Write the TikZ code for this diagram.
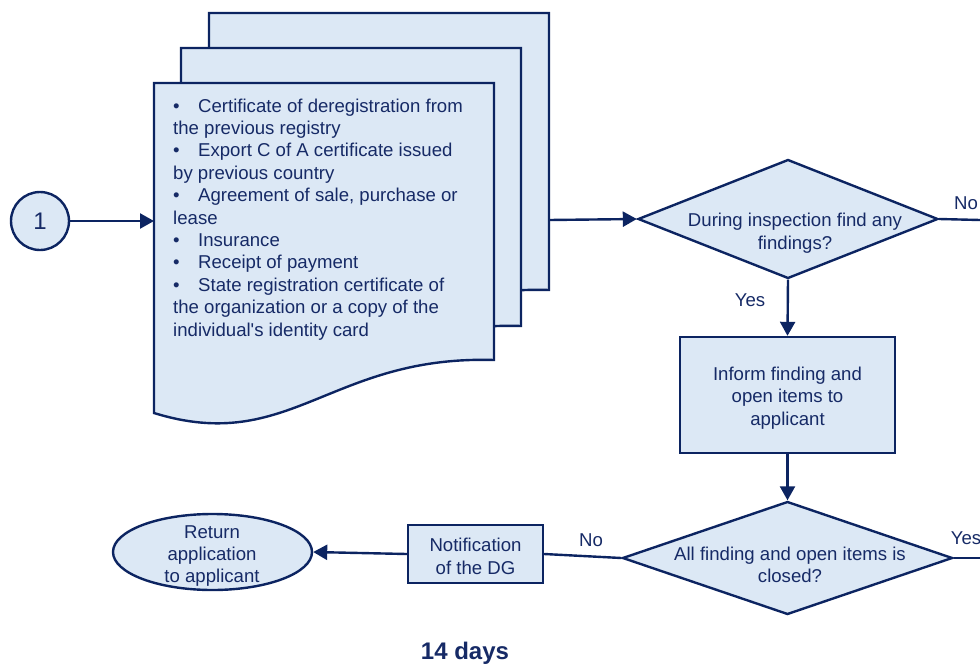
\documentclass[tikz,border=0pt]{standalone}
\usepackage{fontspec}
\setmainfont{Liberation Sans}
\usetikzlibrary{shapes.geometric,arrows.meta}

\definecolor{navy}{RGB}{12,36,97}
\definecolor{paleblue}{RGB}{220,232,245}
\definecolor{inktext}{RGB}{22,42,102}

\newcommand{\flowfont}{\fontsize{18.6}{22.4}\selectfont}
\newcommand{\bitem}{\makebox[25pt][l]{\textbullet}}

\tikzset{
  outline/.style={draw=navy,line width=2.4pt,fill=paleblue},
  flowtext/.style={text=inktext,font=\flowfont,align=center,inner sep=0.75pt},
  procbox/.style={outline,rectangle,inner sep=0pt,flowtext},
  decision/.style={outline,diamond,inner sep=0pt},
  terminal/.style={outline,ellipse,inner sep=0pt},
  connector/.style={circle,outline,inner sep=0pt,minimum size=58pt,text=inktext,font=\fontsize{24}{28}\selectfont},
  flow/.style={draw=navy,line width=2.4pt},
  flowarrow/.style={flow,-{Triangle[length=14pt,width=15pt]}},
}

\begin{document}
\begin{tikzpicture}[x=1pt,y=1pt,yscale=-1,xscale=1]
\useasboundingbox (0,0) rectangle (980,667);

%Document stack
\draw [outline] (209,13) -- (549,13) -- (549,290) .. controls (385,285) and (345,385) .. (209,343) -- cycle ;
\draw [outline] (181,48) -- (521,48) -- (521,326) .. controls (357,321) and (317,421) .. (181,379) -- cycle ;
\draw [outline] (154,83) -- (494,83) -- (494,360) .. controls (330,355) and (290,455) .. (154,413) -- cycle ;
\coordinate (docin) at (154,221);
\coordinate (docout) at (549,220);

% Text Node
\node [flowtext,align=left,anchor=north west,inner sep=0pt] (doclist) at (173,98.4) {\bitem Certificate of deregistration from\\the previous registry\\\bitem Export C of A certificate issued\\by previous country\\\bitem Agreement of sale, purchase or\\lease\\\bitem Insurance\\\bitem Receipt of payment\\\bitem State registration certificate of\\the organization or a copy of the\\individual\textquotesingle s identity card};

%Shapes
\node [connector] (start) at (40,221) {1};
\node [decision,minimum width=300pt,minimum height=119pt] (inspect) at (788,219) {};
\node [procbox,minimum width=215pt,minimum height=116pt] (inform) at (787.5,395) {};
\node [decision,minimum width=330pt,minimum height=113pt] (closed) at (787.5,558) {};
\node [procbox,minimum width=135pt,minimum height=58pt] (notify) at (475.5,554) {};
\node [terminal,minimum width=199pt,minimum height=76pt] (return) at (212.5,552) {};
\coordinate (noexit) at (980,220);
\coordinate (yesexit) at (980,558);

% Text Node
\node [flowtext] (inspecttext) at (795,233) {During inspection find any\\findings?};
% Text Node
\node [flowtext] (informtext) at (787.5,398) {Inform finding and\\open items to\\applicant};
% Text Node
\node [flowtext] (closedtext) at (790,565) {All finding and open items is\\closed?};
% Text Node
\node [flowtext] (notifytext) at (475.5,556.5) {Notification\\of the DG};
% Text Node
\node [flowtext] (returntext) at (212,556) {Return\\application\\to applicant};

%Connectors
\draw [flowarrow] (start) -- (docin) ;
\draw [flowarrow] (docout) -- (inspect.west) ;
\draw [flow] (inspect.east) -- (noexit) ;
\draw [flowarrow] (inspect.south) -- (inform.north) ;
\draw [flowarrow] (inform.south) -- (closed.north) ;
\draw [flow] (closed.east) -- (yesexit) ;
\draw [flow] (closed.west) -- (notify.east) ;
\draw [flowarrow] (notify.west) -- (return.east) ;

% Text Node
\node [flowtext] (nolabela) at (966,203) {No};
% Text Node
\node [flowtext] (yeslabela) at (750,300) {Yes};
% Text Node
\node [flowtext] (yeslabelb) at (966,538) {Yes};
% Text Node
\node [flowtext] (nolabelb) at (591,540) {No};
% Text Node
\node [text=inktext,font=\fontsize{24}{28}\selectfont\bfseries] (duration) at (465,653) {14 days};

\end{tikzpicture}
\end{document}
